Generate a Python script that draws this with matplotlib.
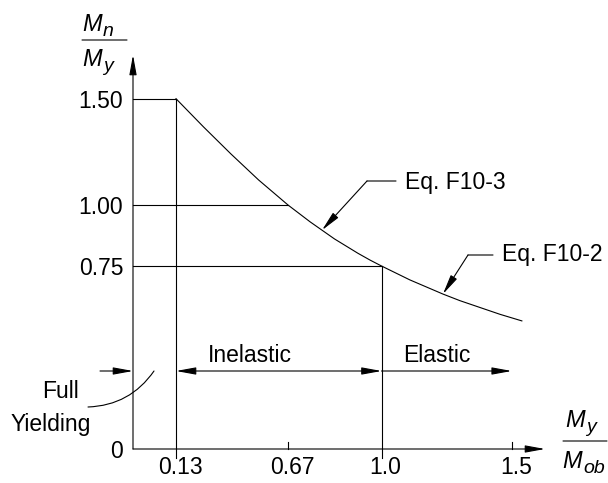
import numpy as np
import matplotlib
matplotlib.use('Agg')
import matplotlib.pyplot as plt

plt.rcParams['font.family'] = ['Liberation Sans', 'DejaVu Sans']

# --- data ---
x_ticks = [0.13, 0.67, 1.0, 1.5]
x_tick_labels = ['0.13', '0.67', '1.0', '1.5']
y_ticks = [0, 0.75, 1.00, 1.50]
y_tick_labels = ['0', '0.75', '1.00', '1.50']

# Mn/My vs My/Mob (Eq. F10-3 then Eq. F10-2)
curve_x = [0.13, 0.263, 0.395, 0.528, 0.67, 0.748, 0.834, 0.917, 0.960,
           1.0, 1.109, 1.236, 1.301, 1.455, 1.539]
curve_y = [1.50, 1.367, 1.240, 1.118, 1.00, 0.931, 0.861, 0.802, 0.774,
           0.75, 0.693, 0.635, 0.608, 0.552, 0.525]

# --- layout (schematic, non-uniform axes) ---
FIG_W, FIG_H = 608, 483
ORIGIN = (133, 449)                 # pixel position of (0, 0)
X_KNOT_VAL = [-1, 0, 0.13, 0.67, 1.0, 1.5, 3.0]
X_KNOT_PX = [-330.8, 0, 43, 155, 248.5, 378.7, 769.3]
Y_KNOT_VAL = [-1, 0, 0.75, 1.0, 1.5, 3.0]
Y_KNOT_PX = [-244, 0, 183, 244, 350.3, 669.2]
AX_W, AX_H = 412, 394               # arrow tips of the axes
LW = 0.8
FS = 16.5


def fx(v):
    return np.interp(v, X_KNOT_VAL, X_KNOT_PX)


def fx_inv(p):
    return np.interp(p, X_KNOT_PX, X_KNOT_VAL)


def fy(v):
    return np.interp(v, Y_KNOT_VAL, Y_KNOT_PX)


def fy_inv(p):
    return np.interp(p, Y_KNOT_PX, Y_KNOT_VAL)


def px(x, y):
    """image pixel (top-left origin) -> figure pixels"""
    return (x, FIG_H - y)


fig = plt.figure(figsize=(FIG_W / 100, FIG_H / 100), dpi=100)
ax = fig.add_axes([ORIGIN[0] / FIG_W, (FIG_H - ORIGIN[1]) / FIG_H,
                   AX_W / FIG_W, AX_H / FIG_H])
ax.set_xscale('function', functions=(fx, fx_inv))
ax.set_yscale('function', functions=(fy, fy_inv))
ax.set_xlim(0, fx_inv(AX_W))
ax.set_ylim(0, fy_inv(AX_H))
for s in ax.spines.values():
    s.set_visible(False)

ax.set_xticks(x_ticks, x_tick_labels)
ax.set_yticks(y_ticks, y_tick_labels)
ax.xaxis.set_minor_locator(matplotlib.ticker.NullLocator())
ax.yaxis.set_minor_locator(matplotlib.ticker.NullLocator())
ax.tick_params(axis='both', length=0, labelsize=FS)
ax.tick_params(axis='x', pad=5)
ax.tick_params(axis='y', pad=7)
# labels in the drawing sit a little right of their lines
shift = matplotlib.transforms.ScaledTranslation(4 / 100, 0, fig.dpi_scale_trans)
for t in ax.get_xticklabels():
    t.set_transform(t.get_transform() + shift)

arrow_kw = dict(arrowstyle='-|>,head_length=1.2,head_width=0.22',
                mutation_scale=10, color='black', lw=LW,
                shrinkA=0, shrinkB=0)
dbl_kw = dict(arrow_kw, arrowstyle='<|-|>,head_length=1.2,head_width=0.22')
plain_kw = dict(arrowstyle='-', lw=LW, color='black', shrinkA=0, shrinkB=0)
line_kw = dict(color='black', lw=LW, clip_on=False)

# axes with arrow heads
xmax, ymax = ax.get_xlim()[1], ax.get_ylim()[1]
ax.annotate('', xy=(xmax, 0), xytext=(0, 0), arrowprops=arrow_kw,
            annotation_clip=False)
ax.annotate('', xy=(0, ymax), xytext=(0, 0), arrowprops=arrow_kw,
            annotation_clip=False)

# curve
ax.plot(curve_x, curve_y, **line_kw)

tick_dn = fy_inv(-9)
tick_up = fy_inv(7)
# plateau and guide lines
ax.plot([0, curve_x[0]], [curve_y[0], curve_y[0]], **line_kw)
ax.plot([x_ticks[0], x_ticks[0]], [tick_dn, curve_y[0]], **line_kw)
ax.plot([0, x_ticks[1]], [y_ticks[2], y_ticks[2]], **line_kw)
ax.plot([0, x_ticks[2]], [y_ticks[1], y_ticks[1]], **line_kw)
ax.plot([x_ticks[2], x_ticks[2]], [tick_dn, y_ticks[1]], **line_kw)
for xt in (x_ticks[1], x_ticks[3]):
    ax.plot([xt, xt], [0, tick_up], **line_kw)

# range arrows
y_arr = fy_inv(ORIGIN[1] - 371)
ax.annotate('', xy=(0, y_arr), xytext=px(100, 371), textcoords='figure pixels',
            arrowprops=arrow_kw, annotation_clip=False)
ax.annotate('', xy=(x_ticks[2], y_arr), xytext=(x_ticks[0], y_arr),
            arrowprops=dbl_kw, annotation_clip=False)
ax.annotate('', xy=(x_ticks[3], y_arr), xytext=(x_ticks[2], y_arr),
            arrowprops=arrow_kw, annotation_clip=False)


def label(text, x, y, ha='left', va='center', size=FS, style='normal'):
    ax.annotate(text, xy=px(x, y), xycoords='figure pixels',
                ha=ha, va=va, fontsize=size, style=style)


label('Inelastic', 208, 355)
label('Elastic', 403, 355)
label('Full', 61, 392, ha='center')
label('Yielding', 51, 425, ha='center')

# Full Yielding leader
ax.annotate('', xy=px(154, 371), xycoords='figure pixels',
            xytext=px(88, 407), textcoords='figure pixels',
            arrowprops=dict(plain_kw, connectionstyle='arc3,rad=0.25'))

# equation leaders
tip3_x = fx_inv(322 - ORIGIN[0])
tip3_y = np.interp(tip3_x, curve_x, curve_y)
ax.annotate('', xy=(tip3_x, tip3_y), xytext=px(367, 181),
            textcoords='figure pixels', arrowprops=arrow_kw)
ax.annotate('', xy=px(396, 181), xycoords='figure pixels',
            xytext=px(367, 181), arrowprops=plain_kw)
label('Eq. F10-3', 405, 182)

tip2_x = curve_x[11]
tip2_y = curve_y[11]
ax.annotate('', xy=(tip2_x, tip2_y), xytext=px(468, 255),
            textcoords='figure pixels', arrowprops=arrow_kw)
ax.annotate('', xy=px(493, 255), xycoords='figure pixels',
            xytext=px(468, 255), arrowprops=plain_kw)
label('Eq. F10-2', 502, 255)


# axis titles as fractions: italic M with a large subscript
def sym(x, y, sub):
    label('M', x, y, va='baseline', size=17, style='italic')
    label(sub, x + 21, y + 5, va='baseline', size=14, style='italic')


sym(82, 31, 'n')
sym(82, 66, 'y')
ax.annotate('', xy=px(127, 40), xycoords='figure pixels', xytext=px(82, 40),
            arrowprops=plain_kw)

sym(565, 427, 'y')
sym(562, 468, 'ob')
ax.annotate('', xy=px(607, 441), xycoords='figure pixels', xytext=px(563, 441),
            arrowprops=plain_kw)

fig.savefig('out.png', dpi=100)
